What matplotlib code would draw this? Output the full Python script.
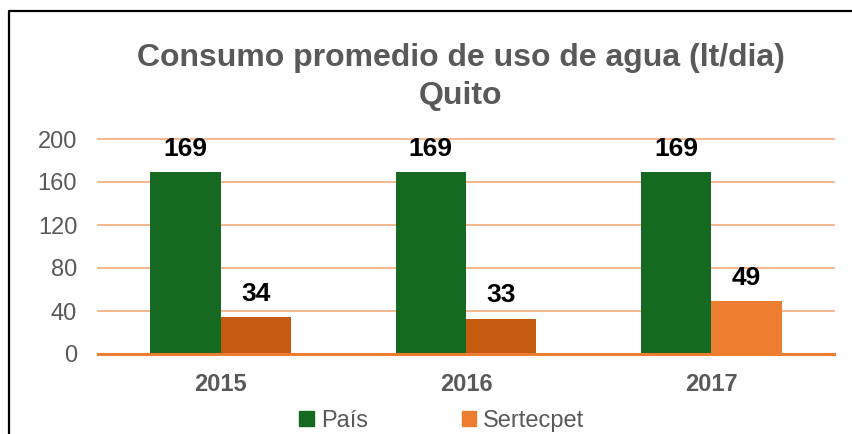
import matplotlib.pyplot as plt
import numpy as np
from matplotlib.lines import Line2D
from matplotlib.patches import Patch

plt.rcParams["font.family"] = ["Liberation Sans", "DejaVu Sans"]

years = ["2015", "2016", "2017"]
pais = [169, 169, 169]
sertecpet = [34, 33, 49]
yticks = [0, 40, 80, 120, 160, 200]

GREEN = "#166921"
ORANGE_DARK = "#C55A11"
ORANGE = "#ED7D31"
GRID = "#F4B183"
GRAY = "#595959"

fig = plt.figure(figsize=(8.53, 4.34), dpi=100)
ax = fig.add_axes([98 / 853, 1 - 354 / 434, (834 - 98) / 853, (354 - 139) / 434])

x = np.arange(len(years))
w = 0.287
sert_colors = [ORANGE_DARK, ORANGE_DARK, ORANGE]
b1 = ax.bar(x - w / 2, pais, w, color=GREEN, zorder=3)
b2 = ax.bar(x + w / 2, sertecpet, w, color=sert_colors, zorder=3)

for bars in (b1, b2):
    for r in bars:
        ax.annotate(f"{r.get_height():.0f}", (r.get_x() + r.get_width() / 2, r.get_height()),
                    xytext=(0, 8), textcoords="offset points", ha="center", va="bottom",
                    fontsize=19, fontweight="bold", color="black", zorder=5)

ax.set_xlim(-0.5, len(years) - 0.5)
ax.set_ylim(0, 200)
ax.set_yticks(yticks)
ax.set_yticklabels([str(v) for v in yticks], fontsize=17, color=GRAY)
ax.set_xticks(x)
ax.set_xticklabels(years, fontsize=17, fontweight="bold", color=GRAY)
ax.tick_params(length=0)
ax.tick_params(axis="y", pad=15)
ax.tick_params(axis="x", pad=14)
for s in ax.spines.values():
    s.set_visible(False)
for v in yticks[1:]:
    ax.axhline(v, color=GRID, linewidth=1.3, zorder=1, clip_on=False)
ax.axhline(0, color=ORANGE, linewidth=2.2, zorder=4, clip_on=False)

fig.text(0.54, 1 - 58 / 434, "Consumo promedio de uso de agua (lt/dia)", ha="center", va="center",
         fontsize=23, fontweight="bold", color=GRAY)
fig.text(0.54, 1 - 96 / 434, "Quito", ha="center", va="center",
         fontsize=23, fontweight="bold", color=GRAY)

handles = [Patch(color=GREEN), Patch(color=ORANGE)]
fig.legend(handles, ["País", "Sertecpet"], loc="center", bbox_to_anchor=(442 / 853, 1 - 421 / 434),
           ncol=2, frameon=False, fontsize=17, handlelength=0.6, handleheight=0.6,
           handletextpad=0.3, columnspacing=4.0, labelcolor=GRAY)

# outer frame, only left and top edges visible in the crop
fx = 9 / 853
fy = 1 - 11 / 434
fig.add_artist(Line2D([fx, fx, 1], [0, fy, fy], transform=fig.transFigure, color="black", linewidth=1.6))

fig.savefig("out.png", dpi=100)
